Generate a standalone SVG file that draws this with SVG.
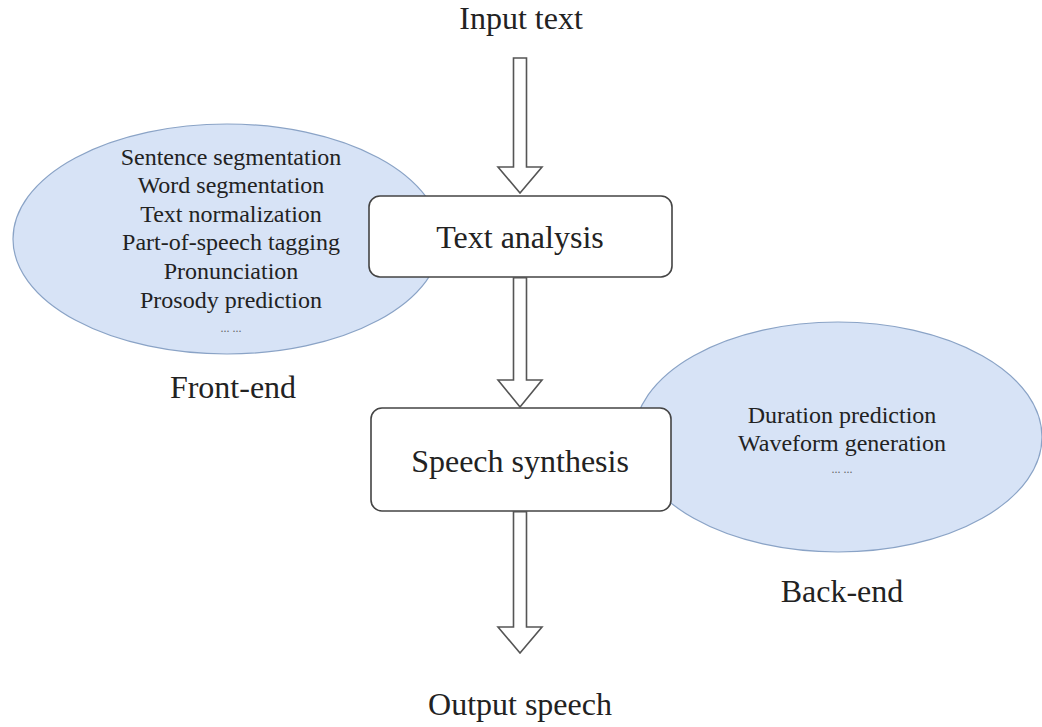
<svg xmlns="http://www.w3.org/2000/svg" width="1042" height="727" viewBox="0 0 1042 727">
<style>
  .lbl{font-family:"Liberation Serif","Times New Roman",serif;fill:#222;text-anchor:middle}
  .big{font-size:32px}
  .sm{font-size:24px}
  .dots{font-size:12px;fill:#666}
  .ell{fill:#d7e3f6;stroke:#8aa3c6;stroke-width:1.2}
  .box{fill:#fff;stroke:#444;stroke-width:1.6}
  .arr{fill:#fff;stroke:#555;stroke-width:1.6;stroke-linejoin:miter}
</style>
<rect width="1042" height="727" fill="#fff"/>
<g id="front-end">
  <ellipse class="ell" cx="227" cy="239" rx="214" ry="115"/>
  <text class="lbl sm" x="231" y="165">Sentence segmentation</text>
  <text class="lbl sm" x="231" y="193">Word segmentation</text>
  <text class="lbl sm" x="231" y="222">Text normalization</text>
  <text class="lbl sm" x="231" y="250">Part-of-speech tagging</text>
  <text class="lbl sm" x="231" y="279">Pronunciation</text>
  <text class="lbl sm" x="231" y="308">Prosody prediction</text>
  <text class="lbl dots" x="231" y="332">... ...</text>
  <text class="lbl big" x="233" y="398">Front-end</text>
</g>
<g id="back-end">
  <ellipse class="ell" cx="838" cy="437" rx="204" ry="115"/>
  <text class="lbl sm" x="842" y="423">Duration prediction</text>
  <text class="lbl sm" x="842" y="451">Waveform generation</text>
  <text class="lbl dots" x="842" y="473">... ...</text>
  <text class="lbl big" x="842" y="602">Back-end</text>
</g>
<g id="input-text">
  <text class="lbl big" x="521" y="29">Input text</text>
</g>
<g id="text-analysis">
  <rect class="box" x="369" y="196" width="303" height="81" rx="11"/>
  <text class="lbl big" x="520" y="248">Text analysis</text>
</g>
<g id="speech-synthesis">
  <rect class="box" x="371" y="408" width="300" height="103" rx="11"/>
  <text class="lbl big" x="520" y="472">Speech synthesis</text>
</g>
<g id="output-speech">
  <text class="lbl big" x="520" y="715">Output speech</text>
</g>
<g id="connectors">
  <path class="arr" d="M513.5,58 H526.5 V167 H542 L520,193 L498,167 H513.5 Z"/>
  <path class="arr" d="M513.5,277.8 H526.5 V380 H542 L520,407 L498,380 H513.5 Z"/>
  <path class="arr" d="M513.5,511.8 H526.5 V627 H542 L520,653 L498,627 H513.5 Z"/>
</g>
</svg>
